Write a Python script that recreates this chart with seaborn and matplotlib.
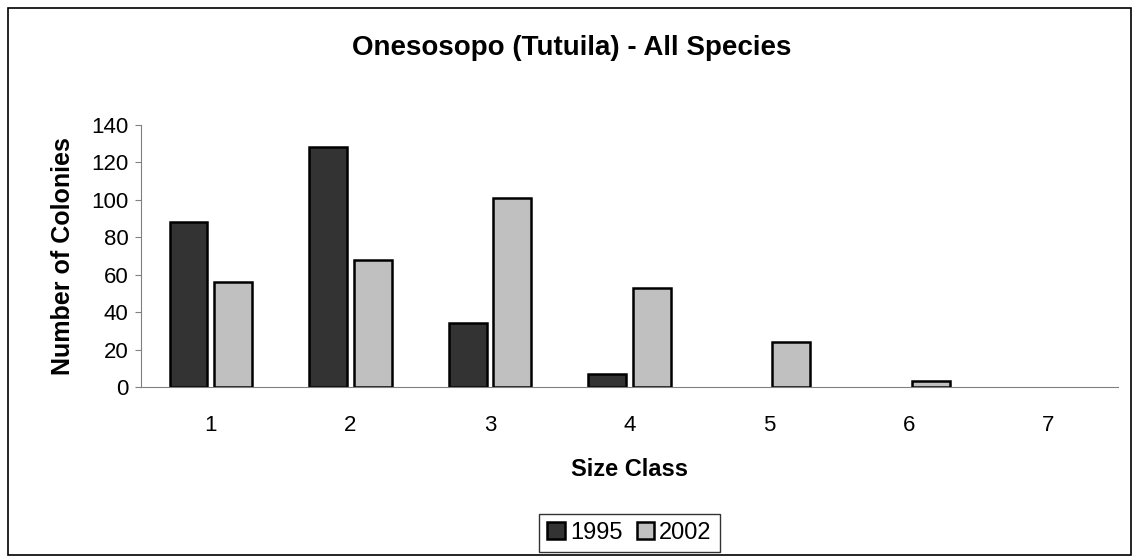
import numpy as np
import pandas as pd
import matplotlib
matplotlib.use("Agg")
import matplotlib.pyplot as plt
import seaborn as sns
from matplotlib.patches import Rectangle

# --- data ---
size_classes = ["1", "2", "3", "4", "5", "6", "7"]
colonies_1995 = [88, 128, 34, 7, 0, 0, 0]
colonies_2002 = [56, 68, 101, 53, 24, 3, 0]
years = ["1995", "2002"]
bar_colors = ["#333333", "#C0C0C0"]

df = pd.DataFrame({
    "Size Class": size_classes * 2,
    "Colonies": colonies_1995 + colonies_2002,
    "Year": [years[0]] * len(size_classes) + [years[1]] * len(size_classes),
})

sns.set_style("white")
plt.rcParams["font.family"] = ["Liberation Sans", "DejaVu Sans"]
plt.rcParams["text.color"] = "black"
plt.rcParams["axes.labelcolor"] = "black"
plt.rcParams["xtick.color"] = "black"
plt.rcParams["ytick.color"] = "black"

fig = plt.figure(figsize=(11.32, 5.56), dpi=100)
ax = fig.add_axes([0.1246, 0.3040, 0.8630, 0.4712])

sns.barplot(data=df, x="Size Class", y="Colonies", hue="Year", order=size_classes,
            hue_order=years, palette=bar_colors, width=0.64, gap=0.15,
            edgecolor="black", linewidth=1.8, ax=ax)

# Excel draws nothing for zero-height bars
for cont in ax.containers:
    for p in cont.patches:
        if p.get_height() == 0:
            p.set_visible(False)

ax.set_ylim(0, 140)
ax.set_yticks(range(0, 141, 20))
ax.set_xlim(-0.5, len(size_classes) - 0.5)
for s in ["top", "right"]:
    ax.spines[s].set_visible(False)
ax.spines["left"].set_color("#808080")
ax.spines["bottom"].set_color("#808080")
ax.tick_params(axis="y", direction="out", length=4, color="#808080", labelsize=16, pad=5, left=True)
ax.tick_params(axis="x", length=0, labelsize=16, pad=20)

ax.set_xlabel("Size Class", fontsize=17, fontweight="bold", labelpad=16)
ax.set_ylabel("Number of Colonies", fontsize=18, fontweight="bold", labelpad=12)
fig.text(0.505, 0.913, "Onesosopo (Tutuila) - All Species", ha="center", va="center",
         fontsize=20, fontweight="bold")

ax.legend(loc="center", bbox_to_anchor=(0.5, -0.557), ncol=2, frameon=True, fancybox=False,
          fontsize=17, handlelength=0.75, handleheight=0.75, handletextpad=0.2,
          columnspacing=0.6, borderpad=0.35, borderaxespad=0, edgecolor="black")
leg = ax.get_legend()
leg.get_frame().set_linewidth(1.0)
for h in leg.legend_handles:
    h.set_edgecolor("black")
    h.set_linewidth(1.8)

# chart-area border
fig.patches.append(Rectangle((8 / 1132, 1 / 556), 1 - 9 / 1132, 1 - 9 / 556,
                             transform=fig.transFigure, fill=False,
                             edgecolor="black", linewidth=1.2))

plt.savefig("out.png", dpi=100)
